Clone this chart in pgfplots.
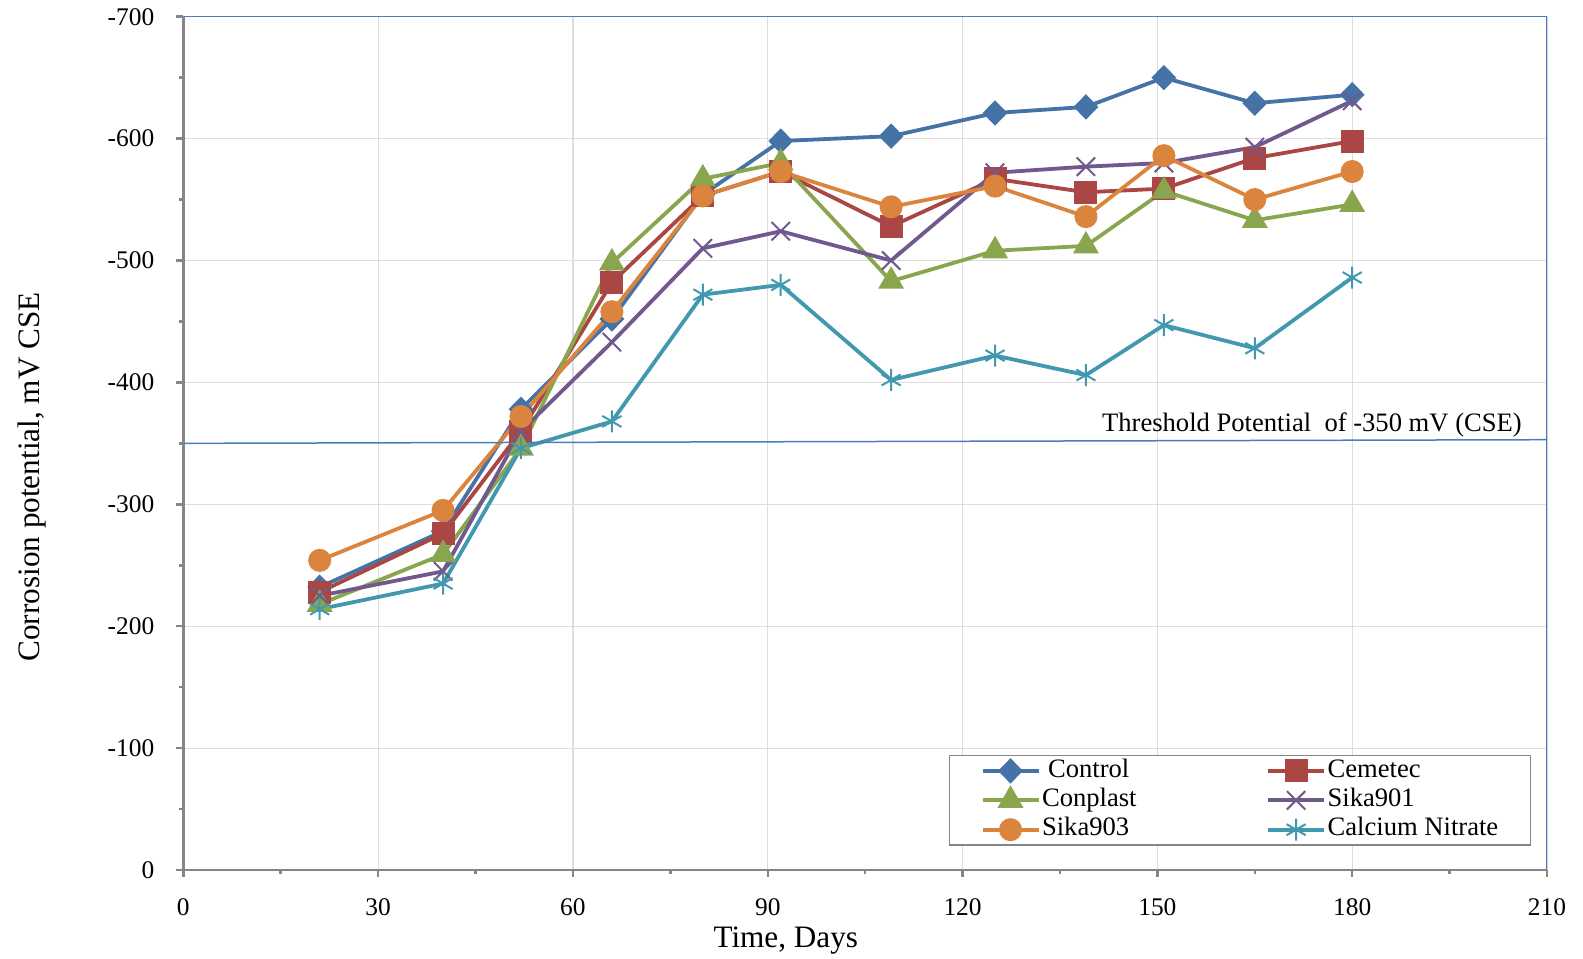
\documentclass[border=0pt]{standalone}
\usepackage{pgfplots}
\pgfplotsset{compat=1.18}
\usepackage{fontspec}
\setmainfont{Liberation Serif}
\definecolor{cCtrl}{HTML}{4572A7}
\definecolor{cCem}{HTML}{AA4643}
\definecolor{cCon}{HTML}{89A54E}
\definecolor{cS901}{HTML}{71588F}
\definecolor{cS903}{HTML}{DB843D}
\definecolor{cCN}{HTML}{4198AF}
\definecolor{axgray}{HTML}{868686}
\definecolor{gridgray}{HTML}{DDDDDD}
\definecolor{frameblue}{HTML}{4A7EBB}
\begin{document}
\begin{tikzpicture}
\useasboundingbox (0,0) rectangle (791.5pt,479pt);
\begin{axis}[
  at={(91.65pt,44pt)}, anchor=south west,
  scale only axis, width=681.85pt, height=426.65pt,
  xmin=0, xmax=210, ymin=-700, ymax=0, y dir=reverse,
  xtick={0,30,...,210}, ytick={-700,-600,...,0},
  minor x tick num=1, minor y tick num=1,
  grid=major, major grid style={color=gridgray, line width=0.6pt},
  axis x line*=bottom, axis y line*=left,
  axis line style={-, color=axgray, line width=1.25pt},
  tick align=outside,
  major tick style={color=axgray, line width=1.25pt},
  minor tick style={color=axgray, line width=1.25pt},
  major tick length=3.5pt, minor tick length=2pt,
  /pgf/number format/assume math mode=true,
  ticklabel style={font=\fontsize{12.7}{14}\selectfont},
  xticklabel style={yshift=-7.4pt},
  yticklabel style={xshift=-7.5pt},
  xlabel={Time, Days}, ylabel={Corrosion potential, mV CSE},
  label style={font=\fontsize{15.6}{18}\selectfont},
  xlabel style={at={(axis description cs:0.4418,-0.0906)}, anchor=base},
  ylabel style={at={(axis description cs:-0.10508,0.4606)}, anchor=base, rotate=0},
  legend columns=2,
  legend cell align=left,
  legend image code/.code={\draw[mark repeat=2,mark phase=2] plot coordinates {(0pt,0pt) (14pt,0pt) (28pt,0pt)};},
  legend style={at={(axis description cs:0.5615,0.1348)}, anchor=north west,
    font=\fontsize{13.3}{15}\selectfont, draw=axgray, line width=0.6pt, fill=white,
    inner xsep=15.5pt, inner ysep=0.3pt, row sep=0pt,
    nodes={inner sep=0.8pt, text height=9.7pt, text depth=3.4pt},
    /tikz/column 2/.style={column sep=64pt}},
  every axis plot/.append style={line width=1.9pt},
]
\addplot[color=cCtrl, mark=diamond*, mark size=5pt, mark options={xscale=1.3}] coordinates {
 (21,-232) (40,-278) (52,-378) (66,-452) (80,-554) (92,-598) (109,-602) (125,-621) (139,-626) (151,-650) (165,-629) (180,-636)};
\addlegendentry{\hspace{3pt}Control}
\addplot[color=cCem, mark=square*, mark size=4.8pt] coordinates {
 (21,-228) (40,-276) (52,-360) (66,-482) (80,-553) (92,-573) (109,-528) (125,-567) (139,-556) (151,-559) (165,-584) (180,-598)};
\addlegendentry{Cemetec}
\addplot[color=cCon, mark=triangle*, mark size=5.6pt] coordinates {
 (21,-218) (40,-259) (52,-346) (66,-498) (80,-567) (92,-580) (109,-483) (125,-508) (139,-512) (151,-557) (165,-533) (180,-546)};
\addlegendentry{Conplast}
\addplot[color=cS901, mark=x, mark size=6.5pt, mark options={line width=1pt}] coordinates {
 (21,-225) (40,-245) (52,-360) (66,-433) (80,-510) (92,-524) (109,-500) (125,-572) (139,-577) (151,-580) (165,-593) (180,-631)};
\addlegendentry{Sika901}
\addplot[color=cS903, mark=*, mark size=4.8pt] coordinates {
 (21,-254) (40,-295) (52,-372) (66,-458) (80,-553) (92,-573) (109,-544) (125,-561) (139,-536) (151,-586) (165,-550) (180,-573)};
\addlegendentry{Sika903}
\addplot[color=cCN, mark=asterisk, mark size=5.5pt, mark options={line width=1pt}] coordinates {
 (21,-214) (40,-235) (52,-346) (66,-368) (80,-472) (92,-480) (109,-402) (125,-422) (139,-406) (151,-447) (165,-428) (180,-486)};
\addlegendentry{Calcium Nitrate}
\addplot[color=frameblue, line width=0.75pt, no marks, forget plot] coordinates {(0,-350) (210,-353)};
\draw[color=frameblue, line width=0.75pt] (axis description cs:0,1) -- (axis description cs:1,1) -- (axis description cs:1,0);
\node[anchor=base east, font=\fontsize{13.3}{15}\selectfont] at (axis cs:207.2,-359.4) {Threshold Potential\ \ of -350 mV (CSE)};
\end{axis}
\end{tikzpicture}
\end{document}
